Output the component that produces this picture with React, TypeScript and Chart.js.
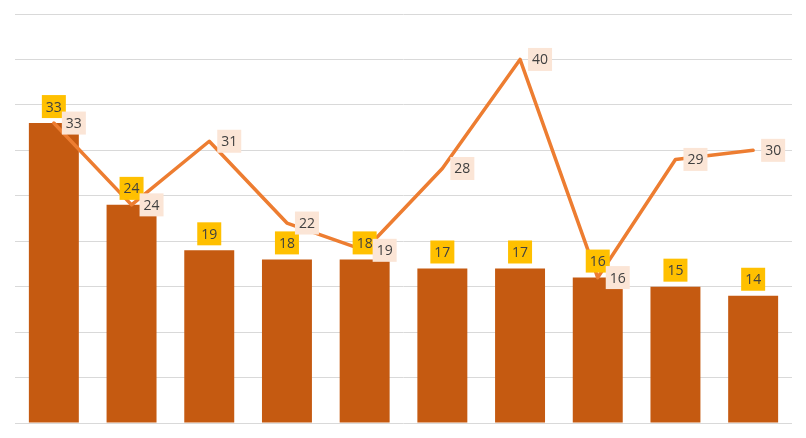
import React, { useEffect, useRef } from "react";
import { Chart, registerables } from "chart.js";

Chart.register(...registerables);

const categories = ["1", "2", "3", "4", "5", "6", "7", "8", "9", "10"];
const barValues = [33, 24, 19, 18, 18, 17, 17, 16, 15, 14];
const lineValues = [33, 24, 31, 22, 19, 28, 40, 16, 29, 30];
const yMax = 45;
const yStep = 5;

const labelPlugin = {
  id: "valueLabels",
  afterDatasetsDraw(chart: any) {
    const ctx = chart.ctx;
    ctx.save();
    ctx.font = '14px "Open Sans", "Noto Sans", sans-serif';
    ctx.textAlign = "center";
    ctx.textBaseline = "middle";
    const barMeta = chart.getDatasetMeta(1);
    const lineMeta = chart.getDatasetMeta(0);
    const drawBox = (cx: number, cy: number, text: string, bg: string) => {
      const w = 24;
      const h = 23;
      ctx.fillStyle = bg;
      ctx.fillRect(cx - w / 2, cy - h / 2, w, h);
      ctx.fillStyle = "#404040";
      ctx.fillText(text, cx, cy + 1);
    };
    barMeta.data.forEach((el: any, i: number) => {
      drawBox(el.x, el.y - 16.5, String(barValues[i]), "#FFC000");
    });
    lineMeta.data.forEach((el: any, i: number) => {
      drawBox(el.x + 20, el.y, String(lineValues[i]), "#FBE5D6");
    });
    ctx.restore();
  },
};

export default function App() {
  const ref = useRef<HTMLCanvasElement>(null);
  useEffect(() => {
    document.body.style.margin = "0";
    const chart = new Chart(ref.current!, {
      type: "bar",
      data: {
        labels: categories,
        datasets: [
          {
            type: "line",
            data: lineValues,
            borderColor: "#ED7D31",
            backgroundColor: "#ED7D31",
            borderWidth: 3.5,
            borderJoinStyle: "round",
            borderCapStyle: "round",
            pointRadius: 0,
            tension: 0,
            order: 0,
          } as any,
          {
            type: "bar",
            data: barValues,
            backgroundColor: "#C55A11",
            categoryPercentage: 0.643,
            barPercentage: 1,
            order: 1,
          },
        ],
      },
      options: {
        animation: false,
        responsive: false,
        layout: { padding: { left: 15, right: 14, top: 14, bottom: 15 } },
        plugins: { legend: { display: false }, tooltip: { enabled: false } },
        scales: {
          x: {
            display: false,
          },
          y: {
            min: 0,
            max: yMax,
            ticks: { display: false, stepSize: yStep },
            grid: { color: "#D9D9D9", lineWidth: 1, drawTicks: false },
            border: { display: false },
          },
        },
      },
      plugins: [labelPlugin],
    });
    return () => chart.destroy();
  }, []);
  return <canvas ref={ref} width={806} height={438} style={{ display: "block" }} />;
}
